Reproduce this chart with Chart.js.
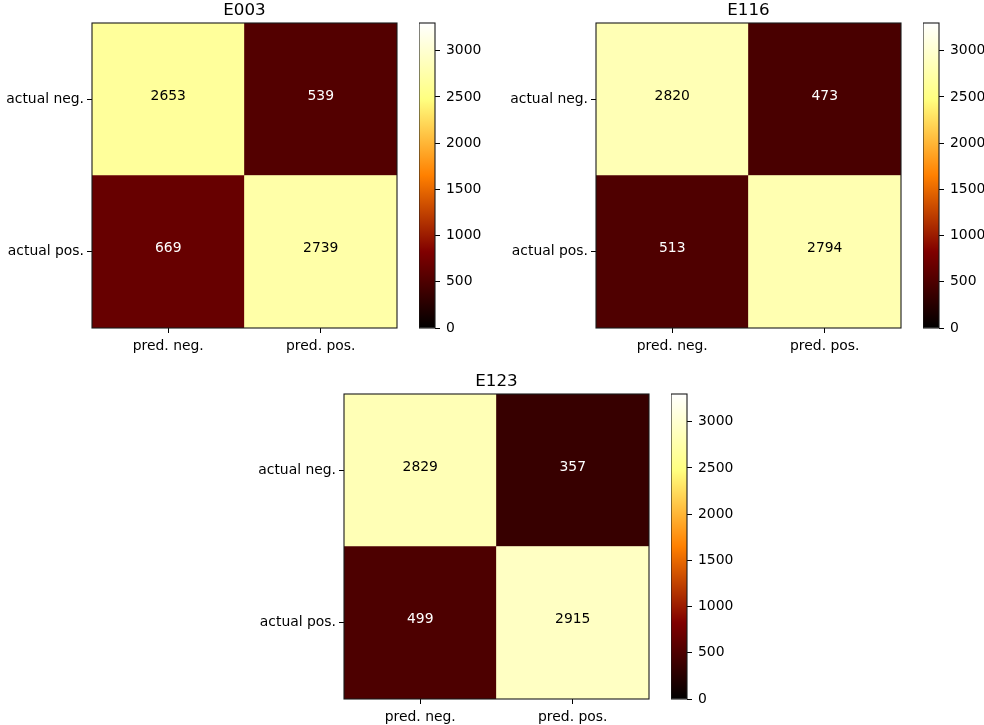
<!DOCTYPE html>
<html>
<head>
<meta charset="utf-8">
<script src="https://cdn.jsdelivr.net/npm/chart.js@4/dist/chart.umd.min.js"></script>
<style>
  html, body { margin: 0; padding: 0; background: #fff; overflow: hidden; }
  #fig { position: relative; width: 984px; height: 725px; overflow: hidden; }
  #fig canvas { position: absolute; }
</style>
</head>
<body>
<div id="fig"></div>
<script>
// Confusion matrices, rows = actual class, columns = predicted class
const predLabels = ['pred. neg.', 'pred. pos.'];
const actualLabels = ['actual neg.', 'actual pos.'];
const countsE003 = [[2653, 539], [669, 2739]];
const countsE116 = [[2820, 473], [513, 2794]];
const countsE123 = [[2829, 357], [499, 2915]];
const colorbarTicks = [0, 500, 1000, 1500, 2000, 2500, 3000];
const colorMin = 0;
const colorMax = 3300;

const FONT_FAMILY = "'DejaVu Sans', 'Liberation Sans', sans-serif";
const TICK_FONT = { family: FONT_FAMILY, size: 13.9 };
const TITLE_FONT = { family: FONT_FAMILY, size: 16.7, weight: 'normal', lineHeight: '20px' };

// 'afmhot' colour map: r = 2t, g = 2t - 0.5, b = 2t - 1 (clipped)
function afmhot(t) {
  t = Math.min(1, Math.max(0, t));
  const c = x => Math.round(255 * Math.min(1, Math.max(0, x)));
  return `rgb(${c(2 * t)}, ${c(2 * t - 0.5)}, ${c(2 * t - 1)})`;
}
const norm = v => (v - colorMin) / (colorMax - colorMin);

// Panel placement on the page
const panels = [
  { title: 'E003', counts: countsE003, left: 92,  top: 23,  bar: 419 },
  { title: 'E116', counts: countsE116, left: 596, top: 23,  bar: 923 },
  { title: 'E123', counts: countsE123, left: 344, top: 394, bar: 671 }
];
const CELL_AREA = 305;   // square image area
const Y_AXIS_W = 92;
const X_AXIS_H = 26;
const TITLE_H = 23;
const BAR_W = 16;
const BAR_AXIS_W = 50;
const BAR_PAD = 20;

const fig = document.getElementById('fig');
function addCanvas(left, top, w, h) {
  const c = document.createElement('canvas');
  c.width = w; c.height = h;
  c.style.left = left + 'px'; c.style.top = top + 'px';
  c.style.width = w + 'px'; c.style.height = h + 'px';
  fig.appendChild(c);
  return c;
}

// Frame around the plotting area
const framePlugin = {
  id: 'frame',
  afterDraw(chart) {
    const a = chart.chartArea, ctx = chart.ctx;
    ctx.save();
    ctx.strokeStyle = '#1a1a1a';
    ctx.lineWidth = 1.1;
    ctx.strokeRect(a.left, a.top, a.right - a.left, a.bottom - a.top);
    ctx.restore();
  }
};

// Count written in the middle of each cell
const cellTextPlugin = {
  id: 'cellText',
  afterDatasetsDraw(chart, args, opts) {
    const ctx = chart.ctx;
    const counts = opts.counts;
    ctx.save();
    ctx.font = `${TICK_FONT.size}px ${FONT_FAMILY}`;
    ctx.textAlign = 'center';
    ctx.textBaseline = 'middle';
    chart.data.datasets.forEach((ds, di) => {
      const row = ds.row;
      chart.getDatasetMeta(di).data.forEach((el, col) => {
        const v = counts[row][col];
        ctx.fillStyle = norm(v) < 0.5 ? '#ffffff' : '#000000';
        ctx.fillText(String(v), el.x, (el.y + el.base) / 2 - 3);
      });
    });
    ctx.restore();
  }
};

panels.forEach(p => {
  // Heat map
  const w = Y_AXIS_W + CELL_AREA + 4;
  const h = TITLE_H + CELL_AREA + X_AXIS_H;
  const cv = addCanvas(p.left - Y_AXIS_W, p.top - TITLE_H, w, h);
  const nRows = actualLabels.length;
  // stacked from the bottom row upwards
  const datasets = actualLabels.map((lab, r) => r).reverse().map(r => ({
    label: actualLabels[r],
    row: r,
    data: predLabels.map(() => 1),
    backgroundColor: p.counts[r].map(v => afmhot(norm(v))),
    borderWidth: 0,
    categoryPercentage: 1,
    barPercentage: 1
  }));
  new Chart(cv, {
    type: 'bar',
    data: { labels: predLabels, datasets },
    options: {
      responsive: false, animation: false, devicePixelRatio: 1,
      events: [],
      layout: { padding: { left: 0, right: 4, top: 0, bottom: 0 } },
      plugins: {
        legend: { display: false },
        tooltip: { enabled: false },
        title: {
          display: true, text: p.title, fullSize: false, color: '#000',
          font: TITLE_FONT, padding: { top: 1, bottom: 2 }
        },
        cellText: { counts: p.counts }
      },
      scales: {
        x: {
          type: 'category', stacked: true,
          grid: { offset: false, drawOnChartArea: false, drawTicks: true, tickLength: 5, color: '#000', lineWidth: 1 },
          border: { display: false },
          ticks: { font: TICK_FONT, color: '#000', padding: 5, maxRotation: 0 },
          afterFit(s) { s.height = X_AXIS_H; }
        },
        y: {
          type: 'linear', stacked: true, min: 0, max: nRows,
          afterBuildTicks(s) { s.ticks = actualLabels.map((_, i) => ({ value: nRows - i - 0.5 })); },
          grid: { drawOnChartArea: false, drawTicks: true, tickLength: 5, color: '#000', lineWidth: 1 },
          border: { display: false },
          ticks: {
            font: TICK_FONT, color: '#000', padding: 3,
            callback: v => actualLabels[nRows - 1 - Math.floor(v)]
          },
          afterFit(s) { s.width = Y_AXIS_W; }
        }
      }
    },
    plugins: [cellTextPlugin, framePlugin]
  });

  // Colour bar
  const cb = addCanvas(p.bar, p.top - BAR_PAD, BAR_W + BAR_AXIS_W, CELL_AREA + 2 * BAR_PAD);
  new Chart(cb, {
    type: 'bar',
    data: {
      labels: [''],
      datasets: [{
        data: [[colorMin, colorMax]],
        borderWidth: 0,
        categoryPercentage: 1,
        barPercentage: 1,
        backgroundColor(ctx) {
          const chart = ctx.chart;
          if (!chart.chartArea) return '#000';
          const y0 = chart.scales.y.getPixelForValue(colorMin);
          const y1 = chart.scales.y.getPixelForValue(colorMax);
          const g = chart.ctx.createLinearGradient(0, y0, 0, y1);
          [0, 0.25, 0.5, 0.75, 1].forEach(s => g.addColorStop(s, afmhot(s)));
          return g;
        }
      }]
    },
    options: {
      responsive: false, animation: false, devicePixelRatio: 1,
      events: [],
      layout: { padding: { left: 0, right: 0, top: BAR_PAD, bottom: BAR_PAD } },
      plugins: { legend: { display: false }, tooltip: { enabled: false } },
      scales: {
        x: { display: false },
        y: {
          type: 'linear', position: 'right', min: colorMin, max: colorMax,
          afterBuildTicks(s) { s.ticks = colorbarTicks.map(v => ({ value: v })); },
          grid: { drawOnChartArea: false, drawTicks: true, tickLength: 5, color: '#000', lineWidth: 1 },
          border: { display: false },
          ticks: { font: TICK_FONT, color: '#000', padding: 6, callback: v => String(v) },
          afterFit(s) { s.width = BAR_AXIS_W; }
        }
      }
    },
    plugins: [framePlugin]
  });
});
</script>
</body>
</html>
